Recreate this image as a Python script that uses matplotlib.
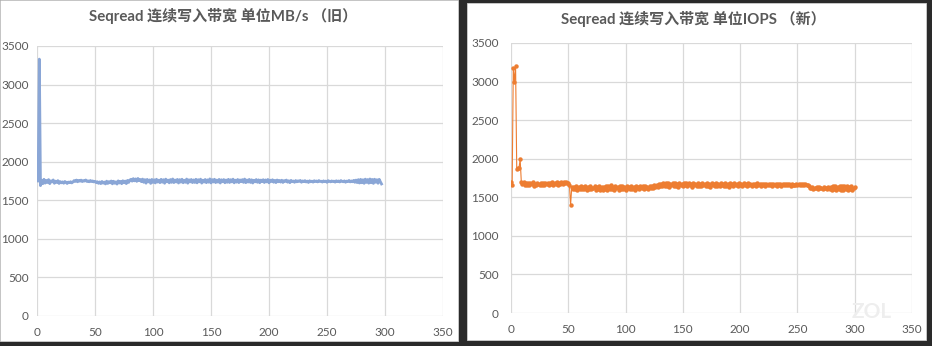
import matplotlib.pyplot as plt
from matplotlib.patches import Rectangle

# fio seqread bandwidth, old drive (MB/s), one sample per second from t=1
old_bw = [
    1750, 3330, 1690, 1760, 1715, 1772, 1722, 1758, 1730, 1768, 1716, 1752, 1738, 1764, 1720,
    1748, 1731, 1755, 1718, 1742, 1726, 1739, 1721, 1744, 1733, 1718, 1736, 1729, 1741, 1725,
    1738, 1756, 1744, 1762, 1740, 1758, 1747, 1761, 1742, 1755, 1749, 1763, 1744, 1752, 1740,
    1757, 1743, 1751, 1738, 1746, 1729, 1741, 1720, 1738, 1716, 1744, 1722, 1736, 1712, 1748,
    1718, 1742, 1726, 1750, 1713, 1747, 1721, 1739, 1710, 1752, 1724, 1745, 1715, 1753, 1727,
    1749, 1716, 1758, 1731, 1762, 1772, 1748, 1781, 1752, 1777, 1745, 1783, 1754, 1770, 1741,
    1775, 1733, 1768, 1722, 1771, 1738, 1764, 1719, 1770, 1731, 1766, 1725, 1773, 1736, 1761,
    1728, 1772, 1734, 1767, 1721, 1774, 1739, 1762, 1726, 1769, 1732, 1776, 1729, 1763, 1737,
    1771, 1724, 1768, 1735, 1773, 1727, 1760, 1733, 1775, 1722, 1766, 1738, 1770, 1729, 1764,
    1731, 1772, 1726, 1767, 1739, 1774, 1723, 1761, 1736, 1770, 1728, 1765, 1734, 1777, 1725,
    1768, 1737, 1773, 1729, 1762, 1735, 1771, 1724, 1766, 1740, 1769, 1727, 1763, 1733, 1772,
    1730, 1767, 1738, 1774, 1726, 1761, 1735, 1770, 1729, 1764, 1741, 1768, 1732, 1775, 1728,
    1763, 1736, 1771, 1731, 1766, 1724, 1760, 1739, 1769, 1733, 1765, 1727, 1762, 1742, 1767,
    1730, 1764, 1738, 1770, 1726, 1761, 1743, 1766, 1734, 1758, 1729, 1763, 1740, 1757, 1736,
    1760, 1731, 1755, 1744, 1762, 1735, 1753, 1728, 1758, 1741, 1750, 1733, 1756, 1739, 1752,
    1745, 1757, 1734, 1751, 1742, 1755, 1737, 1749, 1731, 1753, 1740, 1748, 1735, 1754, 1743,
    1750, 1738, 1756, 1744, 1747, 1736, 1752, 1741, 1749, 1733, 1755, 1746, 1739, 1751, 1743,
    1748, 1735, 1753, 1742, 1750, 1737, 1756, 1745, 1740, 1752, 1734, 1749, 1743, 1757, 1738,
    1751, 1740, 1758, 1733, 1762, 1729, 1768, 1724, 1771, 1727, 1766, 1720, 1774, 1731, 1769,
    1722, 1776, 1728, 1770, 1719, 1773, 1733, 1767, 1721, 1772, 1740, 1712,
]
old_t = list(range(1, len(old_bw) + 1))

# same run on the new drive (IOPS), one sample per second from t=0
new_iops = [
    1700, 1660, 3180, 3000, 3200, 1870, 1875, 1885, 1990, 1700, 1668, 1692, 1655, 1684, 1662,
    1690, 1658, 1681, 1666, 1694, 1652, 1678, 1661, 1688, 1670, 1657, 1683, 1664, 1691, 1659,
    1679, 1667, 1686, 1655, 1682, 1671, 1693, 1660, 1685, 1668, 1696, 1663, 1688, 1674, 1699,
    1672, 1694, 1681, 1698, 1685, 1690, 1662, 1400, 1628, 1604, 1637, 1611, 1640, 1598, 1632,
    1607, 1645, 1601, 1629, 1613, 1641, 1596, 1634, 1609, 1647, 1603, 1625, 1615, 1643, 1594,
    1631, 1606, 1648, 1600, 1636, 1588, 1639, 1612, 1650, 1597, 1644, 1605, 1653, 1610, 1638,
    1599, 1646, 1614, 1635, 1593, 1649, 1608, 1642, 1602, 1633, 1590, 1647, 1617, 1639, 1604,
    1651, 1611, 1637, 1596, 1645, 1619, 1634, 1601, 1648, 1614, 1641, 1606, 1652, 1620, 1638,
    1609, 1646, 1616, 1644, 1624, 1653, 1630, 1661, 1637, 1668, 1645, 1676, 1641, 1683, 1648,
    1679, 1652, 1686, 1639, 1674, 1658, 1690, 1644, 1681, 1650, 1677, 1636, 1688, 1655, 1672,
    1642, 1685, 1660, 1679, 1646, 1691, 1653, 1675, 1638, 1684, 1657, 1670, 1643, 1687, 1651,
    1678, 1640, 1683, 1656, 1673, 1645, 1689, 1649, 1676, 1637, 1682, 1659, 1671, 1647, 1686,
    1652, 1677, 1641, 1684, 1655, 1669, 1644, 1680, 1650, 1674, 1639, 1685, 1658, 1672, 1646,
    1681, 1654, 1676, 1642, 1683, 1657, 1668, 1648, 1679, 1653, 1673, 1645, 1682, 1656, 1670,
    1649, 1677, 1660, 1674, 1646, 1680, 1658, 1669, 1651, 1676, 1655, 1671, 1648, 1678, 1659,
    1667, 1653, 1675, 1650, 1672, 1657, 1668, 1647, 1674, 1661, 1670, 1652, 1676, 1656, 1666,
    1654, 1673, 1660, 1669, 1651, 1677, 1658, 1665, 1655, 1671, 1662, 1668, 1657, 1674, 1660,
    1666, 1656, 1670, 1663, 1659, 1640, 1622, 1615, 1628, 1610, 1625, 1618, 1630, 1612, 1627,
    1616, 1624, 1609, 1631, 1614, 1621, 1611, 1629, 1606, 1638, 1598, 1642, 1601, 1645, 1595,
    1639, 1603, 1648, 1597, 1641, 1590, 1644, 1602, 1650, 1593, 1637, 1608, 1646, 1599, 1621,
    1630,
]
new_t = list(range(len(new_iops)))

titles = ["Seqread 连续写入带宽 单位MB/s （旧）", "Seqread 连续写入带宽 单位IOPS （新）"]
x_ticks = [0, 50, 100, 150, 200, 250, 300, 350]
y_ticks = [0, 500, 1000, 1500, 2000, 2500, 3000, 3500]

W, H = 932, 346
TXT = "#595959"
GRID = "#d9d9d9"
FONTS = ["Lato", "Noto Sans CJK SC", "DejaVu Sans"]

plt.rcParams["font.family"] = FONTS

fig = plt.figure(figsize=(W / 100, H / 100), dpi=100, facecolor="#2a2a2a")


def px_box(x0, y0, x1, y1):
    # pixel box (top-left origin) -> figure fraction rect
    return [x0 / W, 1 - y1 / H, (x1 - x0) / W, (y1 - y0) / H]


# two white screenshot panels on a dark backdrop
for x0, y0, x1, y1 in [(0, 0, 458, 341), (467, 3, 926, 340)]:
    l, b, w, h = px_box(x0, y0, x1, y1)
    fig.add_artist(Rectangle((l, b), w, h, transform=fig.transFigure,
                             facecolor="white", edgecolor="#cfcfcf", lw=0.6, zorder=0))


def style_axes(ax, ypad):
    ax.set_xlim(0, 350)
    ax.set_ylim(0, 3500)
    ax.set_xticks(x_ticks)
    ax.set_yticks(y_ticks)
    ax.grid(True, color=GRID, lw=0.9)
    ax.set_axisbelow(True)
    for s in ax.spines.values():
        s.set_visible(False)
    ax.tick_params(length=0, labelsize=8.5, labelcolor=TXT)
    ax.tick_params(axis="y", pad=ypad)
    ax.tick_params(axis="x", pad=8)
    ax.set_facecolor("none")


ax1 = fig.add_axes(px_box(37, 46, 443, 316))
style_axes(ax1, 6)
ax1.plot(old_t, old_bw, color="#8aa6d6", lw=2.0, solid_joinstyle="round")

ax2 = fig.add_axes(px_box(511, 43, 912, 313))
style_axes(ax2, 9)
ax2.plot(new_t, new_iops, color="#ed7d31", lw=0.8, marker="o", ms=3.2,
         markeredgewidth=0)

fig.text(223 / W, 1 - 16 / H, titles[0], ha="center", va="center",
         fontsize=10.8, color=TXT, fontweight="bold")
fig.text(693 / W, 1 - 19 / H, titles[1], ha="center", va="center",
         fontsize=10.8, color=TXT, fontweight="bold")

# faint site watermark in the corner of the second panel
fig.text(872 / W, 1 - 312 / H, "ZOL", ha="center", va="center",
         fontsize=15, color="#eeeeee", fontweight="bold")

fig.savefig("out.png", dpi=100, facecolor=fig.get_facecolor())
